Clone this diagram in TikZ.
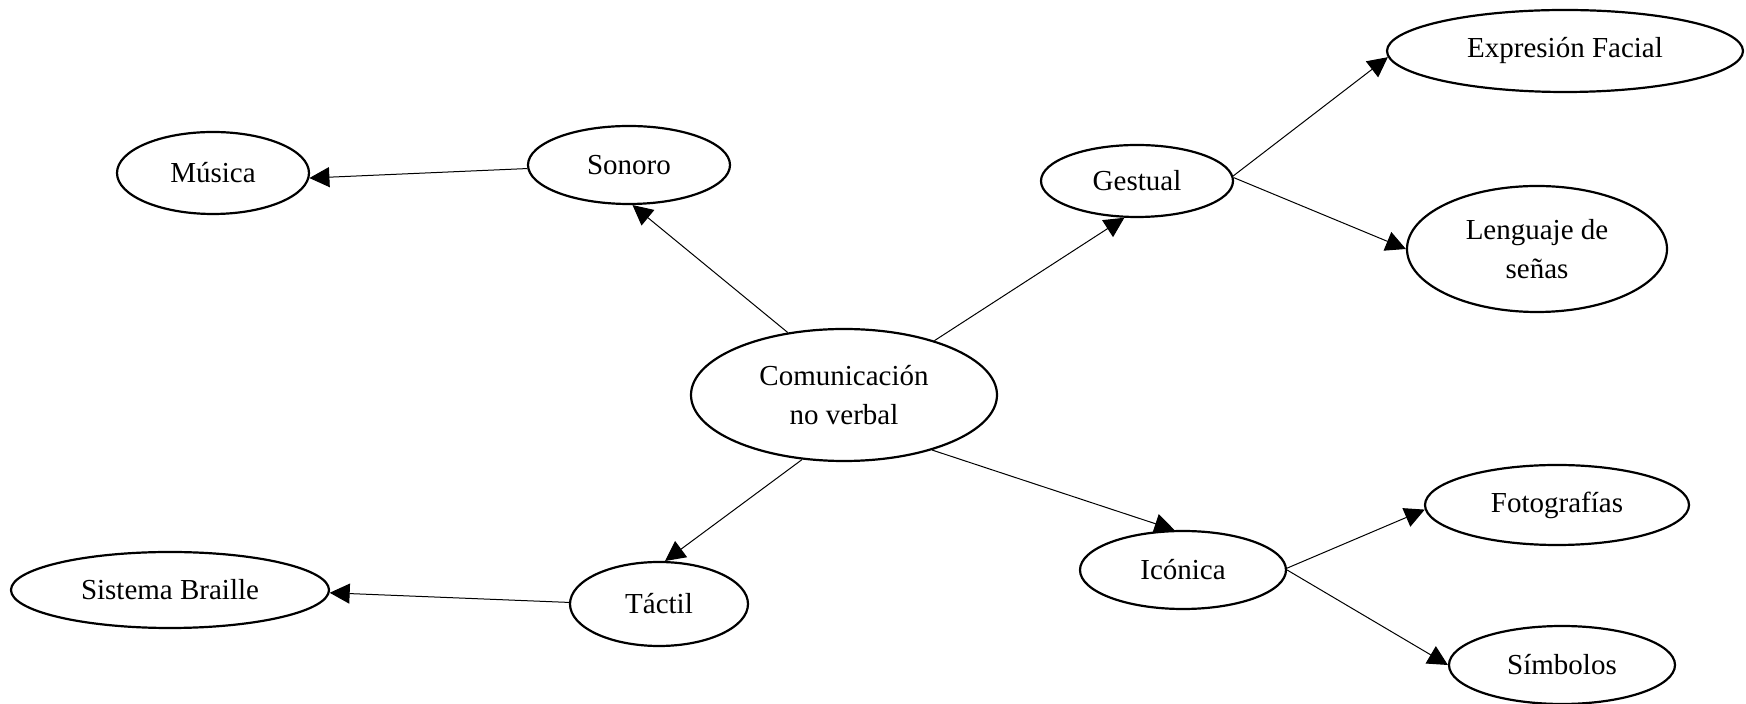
\documentclass[tikz,border=0pt]{standalone}
\usepackage{fontspec}
\setmainfont{Liberation Serif}
\usetikzlibrary{shapes.geometric}
\usetikzlibrary{arrows.meta}
\tikzstyle{concept}=[draw, ellipse, line width=1.1pt, inner sep=0pt, align=center, font=\fontsize{14.5}{19.5}\selectfont]
\tikzstyle{link}=[-{Triangle[length=10pt,width=10pt]}, line width=0.5pt]
\tikzset{dims/.style 2 args={minimum width=#1pt, minimum height=#2pt}}

\begin{document}
\begin{tikzpicture}[x=0.5pt, y=-0.5pt]
        \useasboundingbox (0,0) rectangle (1746,704);
        \node[concept, dims={153}{66}] (Com) at (844, 395) {Comunicación\\no verbal};
        \node[concept, dims={101}{39}] (Son) at (629, 165) {Sonoro};
        \node[concept, dims={96}{41}]  (Mus) at (213, 173) {Música};
        \node[concept, dims={96}{36}]  (Ges) at (1137, 181) {Gestual};
        \node[concept, dims={178}{41}] (Exp) at (1565, 51) {Expresión Facial};
        \node[concept, dims={130}{63}] (Len) at (1537, 249) {Lenguaje de\\señas};
        \node[concept, dims={89}{42}]  (Tac) at (659, 604) {Táctil};
        \node[concept, dims={159}{38}] (Bra) at (170, 590) {Sistema Braille};
        \node[concept, dims={103}{39}] (Ico) at (1183, 570) {Icónica};
        \node[concept, dims={132}{40}] (Fot) at (1557, 505) {Fotografías};
        \node[concept, dims={113}{39}] (Sim) at (1562, 665) {Símbolos};
        \draw[link] (Com.132) -- (Son.275);
        \draw[link] (Com.31) -- (Ges.251);
        \draw[link] (Com.237) -- (Tac.82);
        \draw[link] (Com.-32) -- (Ico.102);
        \draw[link] (Son.182) -- (Mus.-3);
        \draw[link] (Ges.3) -- (Exp.182);
        \draw[link] (Ges.2) -- (Len.180);
        \draw[link] (Tac.179) -- (Bra.-1);
        \draw[link] (Ico.1) -- (Fot.182);
        \draw[link] (Ico.0) -- (Sim.180);
    \end{tikzpicture}
\end{document}
